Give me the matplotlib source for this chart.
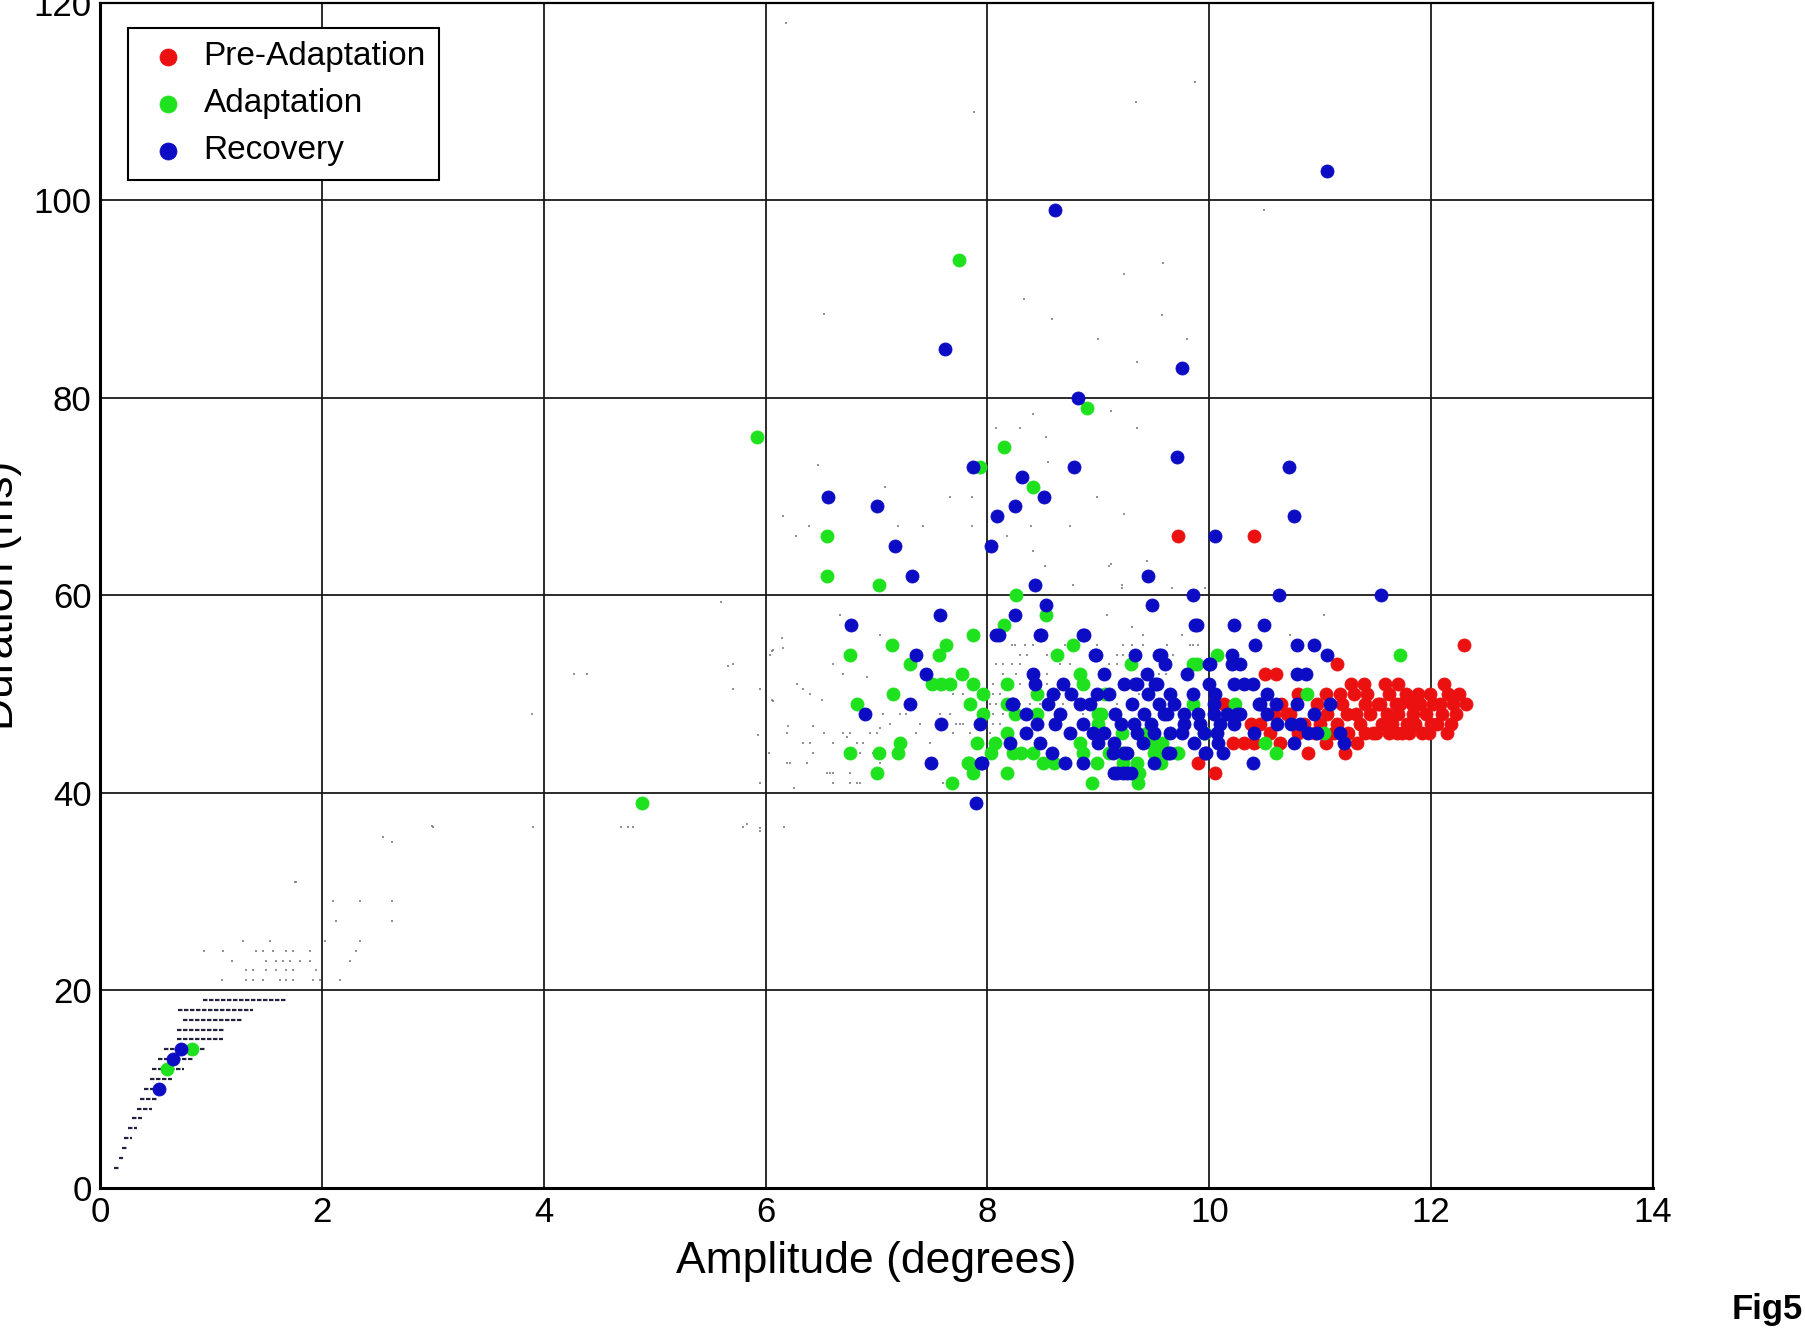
"""Saccade duration vs amplitude, three phases (Fig5)."""

import numpy as np
import matplotlib
matplotlib.use('Agg')
import matplotlib.pyplot as plt

plt.rcParams['font.family'] = ['Liberation Sans', 'DejaVu Sans']

# (amplitude deg, duration ms)
pre_adaptation = [
    (9.72, 66), (10.40, 66), (12.30, 55), (11.15, 53), (10.50, 52), (10.60, 52),
    (9.90, 43), (10.05, 42), (11.39, 51), (12.12, 51), (11.18, 50), (11.77, 50),
    (11.54, 49), (11.99, 50), (12.02, 49), (12.31, 49), (12.22, 48), (12.05, 47),
    (11.90, 49), (11.78, 47), (11.69, 46), (11.56, 47), (11.33, 45), (11.36, 47),
    (11.24, 48), (11.12, 46), (11.06, 48), (10.97, 49), (10.73, 48), (10.46, 47),
    (10.64, 45), (10.31, 45), (10.21, 45), (10.89, 44), (10.13, 49), (10.70, 48),
    (11.45, 48), (11.60, 48), (11.70, 48), (11.85, 47), (11.95, 48), (12.10, 48),
    (11.50, 46), (11.80, 46), (11.65, 47), (11.25, 46), (11.40, 49), (11.00, 47),
    (10.85, 47), (12.15, 50), (11.30, 50), (11.20, 49), (12.20, 49), (10.80, 46),
    (11.62, 50), (10.55, 46), (10.38, 47), (11.48, 46), (11.72, 49),
    (11.05, 50), (11.28, 51), (11.42, 50), (11.58, 51), (11.70, 51), (11.88, 50),
    (12.08, 49), (12.25, 50), (11.15, 47), (11.32, 48), (11.52, 49), (11.68, 49),
    (11.84, 48), (12.00, 47), (12.14, 46), (11.92, 46), (11.74, 46), (11.40, 46),
    (11.62, 46), (11.05, 45), (10.95, 46), (10.65, 49), (10.80, 50), (10.58, 48),
    (10.40, 45), (11.22, 44), (11.83, 49), (12.18, 47), (11.98, 46),
]

adaptation = [
    (7.74, 94), (8.90, 79), (5.92, 76), (8.15, 75), (7.93, 73), (8.41, 71),
    (6.55, 66), (6.55, 62), (7.02, 61), (8.26, 60), (4.89, 39), (0.60, 12),
    (0.83, 14), (11.72, 54), (8.53, 58), (8.15, 57), (7.87, 56), (7.14, 55),
    (6.76, 54), (7.63, 55), (7.56, 54), (7.30, 53), (8.77, 55), (8.63, 54),
    (7.77, 52), (7.50, 51), (7.58, 51), (7.66, 51), (7.87, 51), (7.96, 50),
    (8.18, 51), (7.15, 50), (6.82, 49), (7.84, 49), (7.96, 48), (8.45, 50),
    (8.83, 52), (8.86, 51), (9.00, 48), (9.06, 50), (9.29, 53), (9.85, 53),
    (9.85, 49), (8.18, 46), (6.76, 44), (7.02, 44), (7.21, 45), (7.19, 44),
    (7.00, 42), (7.68, 41), (7.83, 43), (7.87, 42), (7.91, 45), (8.07, 45),
    (8.03, 44), (8.23, 44), (8.30, 44), (8.41, 44), (8.50, 43), (8.60, 43),
    (8.94, 41), (8.99, 43), (9.36, 41), (9.35, 43), (9.50, 44), (9.71, 44),
    (9.56, 43), (8.83, 45), (9.00, 47), (9.21, 46), (9.44, 46), (9.20, 44),
    (9.22, 43), (10.07, 54), (9.89, 53), (8.18, 49), (8.25, 48), (8.45, 48),
    (9.10, 44), (9.37, 42), (9.47, 45), (9.57, 45), (9.57, 44), (9.72, 44),
    (8.18, 42), (7.82, 43), (9.95, 46), (10.23, 49), (10.88, 50), (11.03, 46),
    (10.50, 45), (10.60, 44), (9.96, 46), (8.86, 44), (9.02, 48),
]

recovery = [
    (11.06, 103), (8.61, 99), (7.62, 85), (9.75, 83), (8.82, 80), (9.71, 74),
    (10.72, 73), (8.78, 73), (7.87, 73), (8.31, 72), (8.51, 70), (6.56, 70),
    (8.25, 69), (7.00, 69), (8.09, 68), (10.76, 68), (10.05, 66), (7.17, 65),
    (8.03, 65), (7.32, 62), (9.45, 62), (8.43, 61), (11.55, 60), (10.63, 60),
    (9.85, 60), (0.53, 10), (0.66, 13), (0.73, 14), (7.90, 39),
    (8.53, 59), (9.48, 59), (7.57, 58), (8.25, 58), (9.87, 57), (6.77, 57),
    (8.08, 56), (8.48, 56), (8.87, 56), (7.36, 54), (8.98, 54), (9.33, 54),
    (9.55, 54), (7.45, 52), (8.41, 52), (9.44, 52), (7.30, 49), (6.90, 48),
    (7.58, 47), (7.93, 47), (7.49, 43), (7.94, 43), (8.23, 49),
    (8.43, 51), (8.59, 50), (8.68, 51), (8.83, 49), (8.99, 50), (8.92, 49),
    (9.23, 51), (9.35, 51), (9.51, 51), (9.45, 50), (9.65, 50), (9.68, 49),
    (8.35, 48), (8.45, 47), (8.61, 47), (8.86, 47), (9.05, 46), (9.32, 47),
    (9.41, 48), (9.59, 48), (9.77, 47), (8.35, 46), (8.47, 45), (8.58, 44),
    (8.70, 43), (8.86, 43), (9.17, 42), (9.26, 42), (9.13, 44), (9.26, 44),
    (9.65, 44), (9.86, 45), (8.20, 45), (8.74, 46), (9.50, 46), (9.35, 46),
    (10.22, 57), (10.49, 57), (10.41, 55), (10.79, 55), (10.94, 55), (11.06, 54),
    (10.20, 54), (10.20, 53), (10.28, 53), (10.01, 53), (10.79, 52), (10.87, 52),
    (9.33, 51), (9.53, 51), (10.22, 51), (10.31, 51), (10.39, 51), (10.52, 50),
    (10.05, 50), (10.79, 49), (11.09, 49), (10.45, 49), (10.60, 49), (10.94, 48),
    (10.74, 47), (10.89, 46), (10.97, 46), (11.18, 46), (11.21, 45), (10.76, 45),
    (10.39, 43), (9.96, 44), (9.14, 45), (9.14, 42), (9.22, 42), (9.29, 42),
    (9.63, 44), (10.04, 48), (10.16, 48), (10.28, 48), (10.07, 46), (10.22, 47),
    (9.92, 47), (9.77, 48), (9.62, 48), (9.65, 46), (9.47, 47), (9.20, 47),
    (10.52, 48), (10.61, 47), (10.82, 47), (10.40, 46), (10.10, 47), (10.25, 48),
    (10.04, 49), (10.08, 45), (9.89, 57), (8.10, 56), (8.47, 56), (8.86, 56),
    (8.97, 54), (9.56, 54), (10.00, 53), (8.22, 49), (7.95, 43), (9.23, 44),
    (9.97, 44), (10.46, 49),
    (8.75, 50), (9.10, 50), (9.30, 49), (9.55, 49), (9.85, 50), (10.00, 51),
    (9.00, 45), (9.40, 45), (9.75, 46), (8.95, 46), (9.15, 48), (8.55, 49),
    (9.90, 48), (9.80, 52), (9.60, 53), (9.05, 52), (8.65, 48), (9.95, 46),
    (10.12, 44), (9.50, 43),
]

# faint background saccades (all trials)
background = [
    (6.18, 118), (7.88, 109), (9.87, 112), (9.34, 110), (10.49, 99), (6.53, 88.5),
    (8.33, 90), (8.58, 88), (9.23, 92.6), (9.58, 93.7), (9.57, 88.4), (9.00, 86),
    (9.80, 86), (9.35, 83.6), (3.89, 48), (4.27, 52), (5.71, 53), (5.71, 50.5),
    (5.95, 50.5), (6.06, 49.4), (5.93, 45.8), (6.03, 44), (6.19, 46), (6.19, 43),
    (5.60, 59.3), (6.15, 55.7), (6.07, 54.5), (3.00, 36.5), (2.55, 35.5), (3.90, 36.5),
    (4.76, 36.5), (5.95, 36.4), (6.17, 36.5), (5.83, 36.8), (6.06, 54.4), (6.07, 49.3),
    (6.34, 50.5), (6.51, 49.4), (6.20, 46.8), (6.43, 46.8), (6.37, 43), (6.58, 42),
    (6.61, 41), (6.82, 41), (5.95, 41), (6.26, 40.5), (6.67, 58), (6.61, 53),
    (6.70, 52), (6.91, 51.7), (7.03, 56), (6.73, 45.6), (6.82, 45), (7.03, 46.6),
    (4.80, 36.5), (5.95, 36.1), (6.22, 43), (6.34, 45), (6.53, 46), (6.43, 44),
    (6.55, 42), (6.76, 42), (6.85, 41), (6.70, 46), (6.88, 45), (6.94, 46),
    (7.00, 46), (7.03, 43), (7.12, 47), (7.21, 48), (7.27, 48), (7.39, 47),
    (7.57, 48), (7.69, 46), (7.75, 47), (7.36, 46), (7.48, 45), (7.60, 41),
    (6.85, 44), (6.97, 44),
    (8.22, 55), (8.25, 55), (8.34, 55), (8.41, 55), (8.70, 55), (8.99, 55),
    (9.22, 55), (9.30, 55), (9.40, 55), (9.62, 55), (9.83, 55), (9.90, 55),
    (8.29, 54), (8.36, 54), (8.54, 54), (8.59, 54), (9.17, 54), (9.22, 54), (9.67, 54),
    (8.08, 53), (8.14, 53), (8.22, 53), (8.29, 53), (8.65, 53), (8.74, 53),
    (9.10, 53), (9.17, 53), (9.59, 53), (9.65, 53),
    (8.14, 52), (8.26, 52), (8.54, 52), (9.07, 52), (9.55, 52), (9.61, 52),
    (8.05, 51), (8.29, 51), (8.54, 51), (9.22, 51), (9.37, 51),
    (8.05, 50), (8.11, 50), (8.56, 50), (8.65, 50), (9.37, 50), (9.49, 50),
    (8.02, 49), (8.08, 49), (8.50, 49), (8.56, 49), (8.68, 49), (9.17, 49),
    (8.05, 48), (8.14, 48), (8.71, 48), (8.86, 48), (9.17, 48),
    (7.72, 47), (7.78, 47), (8.05, 47), (8.11, 47),
    (7.69, 50), (7.78, 50), (8.29, 49), (8.38, 49), (8.47, 49), (7.66, 48),
    (7.84, 46), (8.02, 46), (6.16, 54.7), (6.04, 54), (6.40, 45), (6.61, 45),
    (6.76, 46), (6.28, 51), (6.40, 50), (7.06, 48), (6.61, 42), (6.76, 41),
    (6.16, 68), (6.47, 73.2), (6.39, 67), (6.27, 66), (7.19, 67), (7.42, 67),
    (7.66, 70), (7.86, 70), (7.08, 71), (7.86, 67), (8.41, 78.4), (8.08, 77),
    (8.29, 77), (8.53, 76), (9.11, 78.7), (9.35, 77), (8.55, 73.5), (8.99, 70),
    (9.23, 68.2), (8.74, 67), (8.39, 67), (8.18, 66), (8.41, 64.5), (8.52, 63),
    (9.11, 63.2), (9.44, 63.5), (9.21, 61), (8.77, 61), (9.10, 63), (9.21, 60.7),
    (9.66, 60.7), (9.96, 60.7), (11.03, 58), (9.08, 58), (9.30, 56.8), (9.85, 55),
    (10.73, 56), (9.40, 56), (9.75, 56),
    (1.77, 31), (2.63, 35), (2.99, 36.6), (4.39, 52), (5.66, 52.8), (5.80, 36.5),
    (4.70, 36.5),
    (1.10, 21), (1.32, 21), (1.38, 21), (1.47, 21), (1.62, 21), (1.68, 21),
    (1.74, 21), (1.92, 21), (1.98, 21), (2.16, 21),
    (1.32, 22), (1.38, 22), (1.50, 22), (1.59, 22), (1.68, 22), (1.74, 22), (1.95, 22),
    (1.19, 23), (1.50, 23), (1.59, 23), (1.65, 23), (1.71, 23), (1.80, 23),
    (1.89, 23), (2.25, 23),
    (0.94, 24), (1.11, 24), (1.41, 24), (1.47, 24), (1.56, 24), (1.68, 24),
    (1.74, 24), (1.89, 24), (2.31, 24),
    (1.29, 25), (1.53, 25), (2.03, 25), (2.34, 25), (2.13, 27), (2.63, 27),
    (2.10, 29), (2.34, 29), (2.63, 29), (1.76, 31),
]

# dense short runs of small saccades: (duration, amp from, amp to)
small_rows = [
    (2, 0.13, 0.18), (3, 0.17, 0.21), (4, 0.20, 0.25), (5, 0.22, 0.29),
    (6, 0.25, 0.33), (7, 0.29, 0.38), (8, 0.33, 0.47), (9, 0.36, 0.51),
    (10, 0.40, 0.52), (11, 0.45, 0.65), (12, 0.47, 0.76), (13, 0.52, 0.84),
    (14, 0.58, 0.95), (15, 0.69, 1.11), (16, 0.69, 1.12), (17, 0.75, 1.29),
    (18, 0.70, 1.38), (19, 0.93, 1.68),
]

x_ticks = [0, 2, 4, 6, 8, 10, 12, 14]
y_ticks = [0, 20, 40, 60, 80, 100, 120]

fig = plt.figure(figsize=(18.06, 13.30), dpi=100)
ax = fig.add_axes([0.0554, 0.1071, 0.8599, 0.8906])
ax.set_axisbelow(True)

# background trials
bg = np.array(background)
ax.plot(bg[:, 0], bg[:, 1], 's', color='#7a7a7a', markersize=1.6,
        markeredgewidth=0, alpha=0.8, zorder=1)
rows = np.array(small_rows)
ax.hlines(rows[:, 0], rows[:, 1], rows[:, 2], colors='#22223f',
          linewidth=1.6, linestyles=(0, (2.0, 0.7)), zorder=1)

groups = [
    ('Pre-Adaptation', pre_adaptation, '#ec1111'),
    ('Adaptation', adaptation, '#1fe21f'),
    ('Recovery', recovery, '#0c0cc4'),
]
for name, pts, col in groups:
    arr = np.array(pts)
    ax.scatter(arr[:, 0], arr[:, 1], s=88, color=col, edgecolors=col,
               linewidths=0.6, label=name, zorder=3)

ax.set_xlim(0, 14)
ax.set_ylim(0, 120)
ax.set_xticks(x_ticks)
ax.set_yticks(y_ticks)
ax.grid(True, color='#1a1a1a', linewidth=1.3)
ax.tick_params(length=0, labelsize=25, pad=6)
for side, sp in ax.spines.items():
    sp.set_color('black')
    sp.set_linewidth(2.2 if side in ('left', 'bottom') else 1.6)

ax.set_xlabel('Amplitude (degrees)', fontsize=32, labelpad=9)
fig.text(22 / 1806, 0.5526, 'Duration (ms)', rotation=90, fontsize=32,
         ha='right', va='center')

leg = ax.legend(loc='upper left', bbox_to_anchor=(0.018, 0.979),
                borderaxespad=0, fontsize=24, frameon=True, fancybox=False,
                framealpha=1, edgecolor='black', borderpad=0.4,
                handlelength=1.57, handletextpad=0.3, labelspacing=0.48,
                markerscale=1.3)
leg.get_frame().set_linewidth(1.5)

fig.text(1803 / 1806, 1 - 1309 / 1330, 'Fig5', ha='right', va='center',
         fontsize=25, fontweight='bold')

fig.savefig('out.png', dpi=100)
